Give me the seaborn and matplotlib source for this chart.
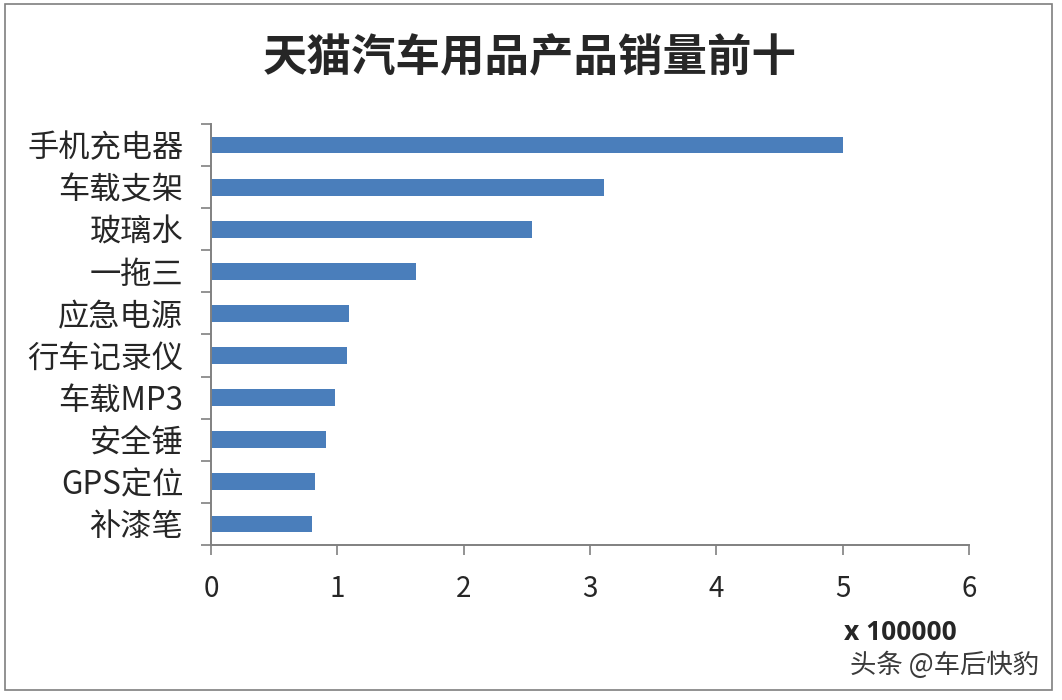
import numpy as np
import pandas as pd
import matplotlib
matplotlib.use("Agg")
import matplotlib.pyplot as plt
import seaborn as sns
from matplotlib.patches import Rectangle

# Datos
categorias = ["手机充电器", "车载支架", "玻璃水", "一拖三", "应急电源",
              "行车记录仪", "车载MP3", "安全锤", "GPS定位", "补漆笔"]
ventas = [5.00, 3.11, 2.54, 1.62, 1.09, 1.08, 0.98, 0.91, 0.82, 0.80]
xticks = [0, 1, 2, 3, 4, 5, 6]

titulo = "天猫汽车用品产品销量前十"
unidad = "x 100000"
marca = "头条 @车后快豹"

sns.set_style("white")
plt.rcParams["font.family"] = ["Noto Sans CJK SC", "DejaVu Sans"]

df = pd.DataFrame({"categoria": categorias, "ventas": ventas})

fig = plt.figure(figsize=(10.62, 7.0), dpi=100)
ax = fig.add_axes([0.1987, 0.2214, 0.7137, 0.6015])

sns.barplot(data=df, x="ventas", y="categoria", orient="h",
            color="#4a7ebb", width=0.4, saturation=1, linewidth=0, ax=ax)

ax.set_xlim(0, 6)
ax.set_ylim(len(categorias) - 0.5, -0.5)
ax.set_xticks(xticks)
ax.set_xticklabels([str(t) for t in xticks], fontsize=20)
ax.set_xlabel("")
ax.set_ylabel("")

# Ticks de categoría entre barras
ax.set_yticks(np.arange(len(categorias)))
ax.set_yticklabels(categorias, fontsize=22.5)
ax.set_yticks(np.arange(-0.5, len(categorias), 1), minor=True)
ax.tick_params(axis="y", which="major", left=False, length=0, pad=20)
ax.tick_params(axis="y", which="minor", left=True, length=7, width=1.2,
               color="#808080", direction="out")
ax.tick_params(axis="x", which="major", bottom=True, length=7, width=1.2,
               color="#808080", direction="out", pad=14)

for lado in ["top", "right"]:
    ax.spines[lado].set_visible(False)
for lado in ["left", "bottom"]:
    ax.spines[lado].set_color("#808080")
    ax.spines[lado].set_linewidth(1.4)

fig.text(0.499, 0.917, titulo, ha="center", va="center",
         fontsize=32, fontweight="bold")
fig.text(0.848, 0.097, unidad, ha="center", va="center",
         fontsize=19, fontweight="bold", family=["Open Sans", "DejaVu Sans"])
fig.text(0.889, 0.050, marca, ha="center", va="center",
         fontsize=19, color="#3a3a3a")

# Marco exterior
fig.patches.append(Rectangle((0.005, 0.014), 0.986, 0.98, transform=fig.transFigure,
                             fill=False, edgecolor="#7f7f7f", linewidth=1.2))

fig.savefig("out.png", dpi=100)
